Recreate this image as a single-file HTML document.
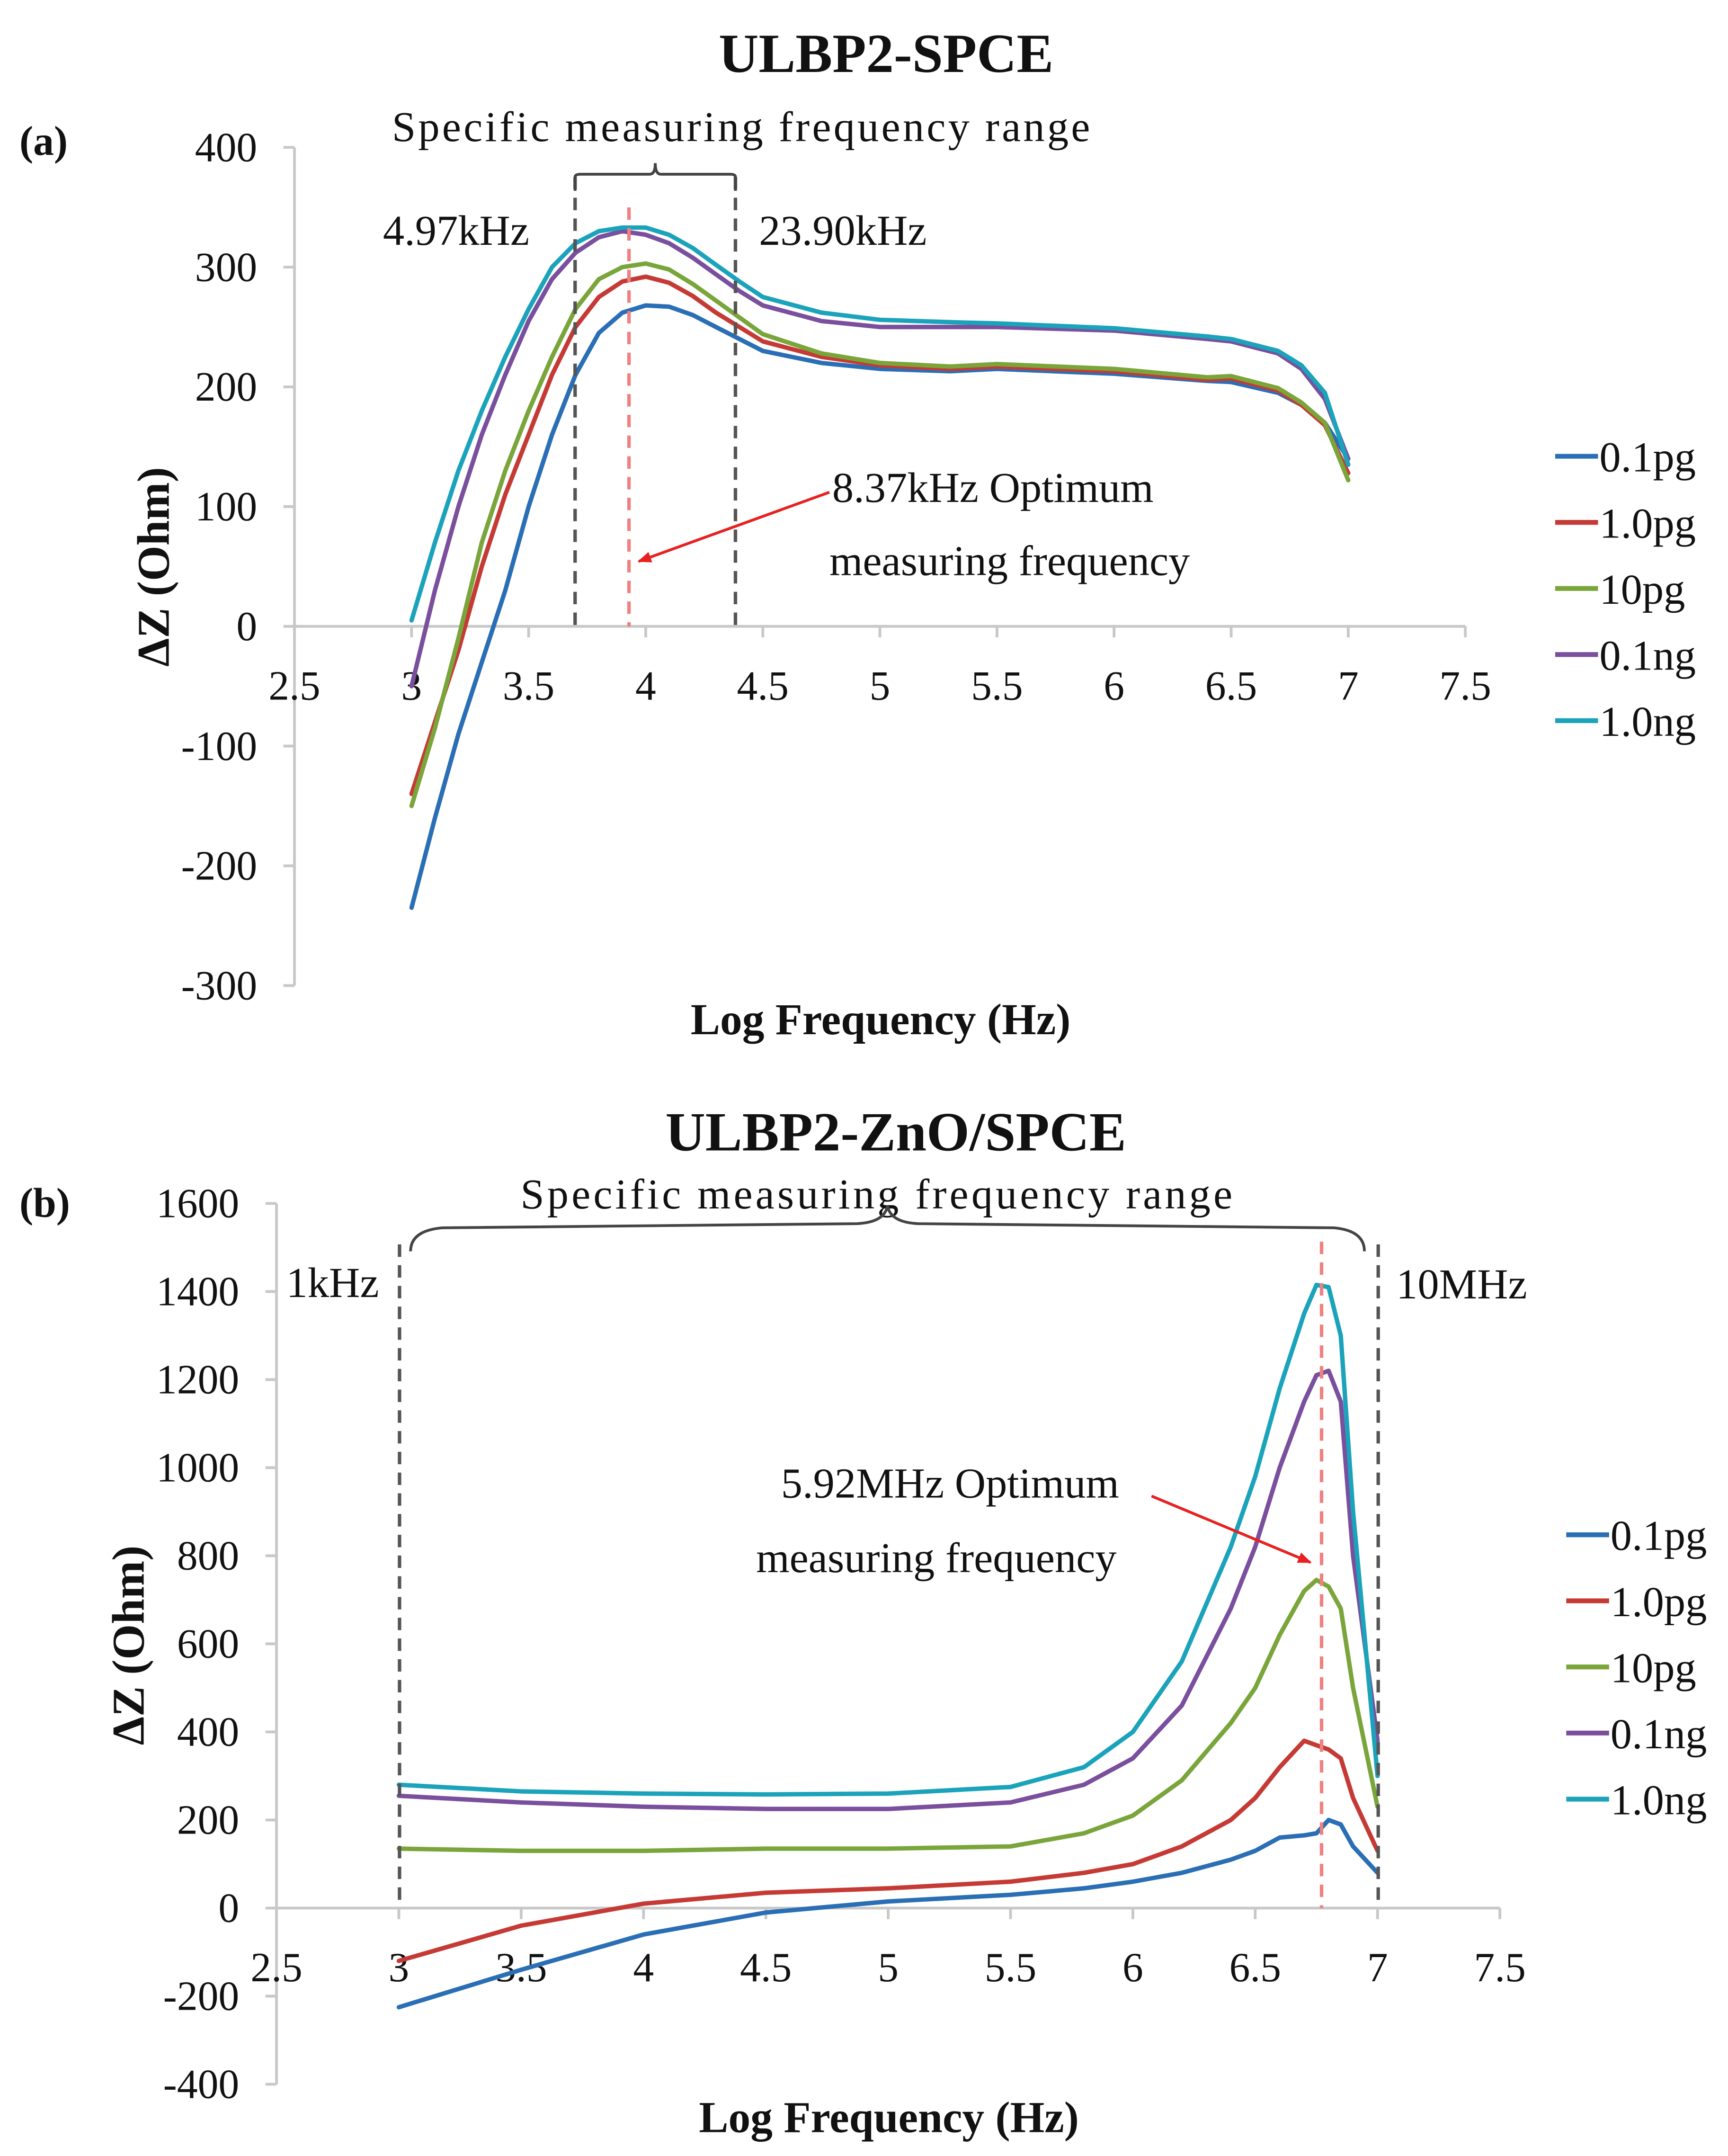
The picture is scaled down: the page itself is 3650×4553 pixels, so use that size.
<!DOCTYPE html>
<html><head><meta charset="utf-8"><style>
html,body{margin:0;padding:0;background:#fff}
svg{display:block}
text{font-family:"Liberation Serif",serif;fill:#111}
</style></head><body>
<svg id="s" width="3650" height="4553" viewBox="0 0 1250 1559.3" xmlns="http://www.w3.org/2000/svg">
<g id="ga">
<text x="641" y="52" font-size="40" font-weight="bold" text-anchor="middle">ULBP2-SPCE</text>
<text x="14" y="112" font-size="30" font-weight="bold">(a)</text>
<text transform="translate(122,410) rotate(-90)" font-size="33" font-weight="bold" text-anchor="middle">ΔZ (Ohm)</text>
<text x="637" y="748" font-size="32" font-weight="bold" text-anchor="middle">Log Frequency (Hz)</text>
<text x="536" y="102" font-size="31" text-anchor="middle" textLength="505">Specific measuring frequency range</text>
<text x="277" y="177" font-size="31">4.97kHz</text>
<text x="549" y="177" font-size="31">23.90kHz</text>
<text x="602" y="363" font-size="31">8.37kHz Optimum</text>
<text x="600" y="416" font-size="31">measuring frequency</text>
</g>
<g id="gb">
<text x="648" y="832" font-size="40" font-weight="bold" text-anchor="middle">ULBP2-ZnO/SPCE</text>
<text x="14" y="880" font-size="30" font-weight="bold">(b)</text>
<text transform="translate(104,1190) rotate(-90)" font-size="33" font-weight="bold" text-anchor="middle">ΔZ (Ohm)</text>
<text x="643" y="1542" font-size="32" font-weight="bold" text-anchor="middle">Log Frequency (Hz)</text>
<text x="634" y="874" font-size="31" text-anchor="middle" textLength="515">Specific measuring frequency range</text>
<text x="207" y="938" font-size="31">1kHz</text>
<text x="1010" y="939" font-size="31">10MHz</text>
<text x="565" y="1083" font-size="31">5.92MHz Optimum</text>
<text x="547" y="1137" font-size="31">measuring frequency</text>
</g>
</svg>
<script>
const seriesNames=["0.1pg","1.0pg","10pg","0.1ng","1.0ng"];
const seriesColors=["#2a6fb5","#c63a35","#7aa53a","#7a4f9d","#1ba3bb"];
const xTicks=[2.5,3,3.5,4,4.5,5,5.5,6,6.5,7,7.5];
const yTicksA=[400,300,200,100,0,-100,-200,-300];
const yTicksB=[1600,1400,1200,1000,800,600,400,200,0,-200,-400];
const xA=[3,3.1,3.2,3.3,3.4,3.5,3.6,3.7,3.8,3.9,4.0,4.1,4.2,4.3,4.4,4.5,4.75,5,5.3,5.5,6,6.4,6.5,6.7,6.8,6.9,7];
const a01pg=[-235,-160,-90,-30,30,100,160,210,245,262,268,267,260,250,240,230,220,215,213,215,211,205,204,195,185,170,140];
const a10pg=[-140,-80,-20,50,110,160,210,250,275,288,292,287,276,262,250,238,225,218,215,217,213,206,207,197,185,168,128];
const a10pgB=[-150,-85,-10,70,130,180,225,265,290,300,303,298,286,272,258,244,228,220,217,219,215,208,209,199,187,170,122];
const a01ng=[-50,30,100,160,210,255,290,312,325,330,327,320,308,294,280,268,255,250,250,250,247,240,238,228,215,190,140];
const a10ng=[5,70,130,180,225,265,300,320,330,333,333,327,316,302,288,275,262,256,254,253,249,242,240,230,218,195,135];
const xB=[3,3.5,4,4.5,5,5.5,5.8,6,6.2,6.4,6.5,6.6,6.7,6.75,6.8,6.85,6.9,7];
const b01pg=[-225,-140,-60,-10,15,30,45,60,80,110,130,160,165,170,200,190,140,80];
const b10pg=[-120,-40,10,35,45,60,80,100,140,200,250,320,380,370,360,340,250,130];
const b10pgB=[135,130,130,135,135,140,170,210,290,420,500,620,720,745,730,680,500,230];
const b01ng=[255,240,230,225,225,240,280,340,460,680,820,1000,1150,1210,1220,1150,800,380];
const b10ng=[280,265,260,258,260,275,320,400,560,820,980,1180,1350,1415,1410,1300,900,300];
const NS="http://www.w3.org/2000/svg";
function mk(p,t,at){const e=document.createElementNS(NS,t);for(const k in at)e.setAttribute(k,at[k]);p.appendChild(e);return e;}
function panel(g,id,X0,X1,Y0v,Y0p,Ypx,yTicks,xs,data,leg,tickFont){
  const sx=v=>X0+(v-2.5)/5*(X1-X0);
  const sy=v=>Y0p-v*Ypx;
  const yTop=sy(yTicks[0]),yBot=sy(yTicks[yTicks.length-1]);
  let l=mk(g,"line",{x1:X0,y1:yTop,x2:X0,y2:yBot,stroke:"#c8c8c8","stroke-width":2});
  
  
  yTicks.forEach(t=>{
    mk(g,"line",{x1:X0-8,y1:sy(t),x2:X0,y2:sy(t),stroke:"#c8c8c8","stroke-width":2});
    let tx=mk(g,"text",{x:X0-27,y:sy(t)+10,"font-size":tickFont,"text-anchor":"end"});tx.textContent=t;
    
    
  });
  let xl=mk(g,"line",{x1:X0,y1:sy(0),x2:X1,y2:sy(0),stroke:"#c8c8c8","stroke-width":2});
  
  
  xTicks.forEach(t=>{
    mk(g,"line",{x1:sx(t),y1:sy(0),x2:sx(t),y2:sy(0)+8,stroke:"#c8c8c8","stroke-width":2});
    let tx=mk(g,"text",{x:sx(t),y:sy(0)+53,"font-size":tickFont,"text-anchor":"middle"});tx.textContent=t;
    
    
  });
  data.forEach((d,i)=>{
    const pts=d.map((v,j)=>sx(xs[j]).toFixed(1)+","+sy(v).toFixed(1)).join(" ");
    let pl=mk(g,"polyline",{points:pts,fill:"none",stroke:seriesColors[i],"stroke-width":3.2,"stroke-linejoin":"round","stroke-linecap":"round"});
    
    
    const ly=leg[1]+i*47.8;
    let ll=mk(g,"line",{x1:leg[0],y1:ly,x2:leg[0]+31,y2:ly,stroke:seriesColors[i],"stroke-width":3.5});
    
    
    let lt=mk(g,"text",{x:leg[0]+32,y:ly+11,"font-size":31});lt.textContent=seriesNames[i];
    
    
  });
  return {sx,sy};
}
const ga=document.getElementById('ga'),gb=document.getElementById('gb');
const A=panel(ga,'a',213,1060,0,453,0.866,yTicksA,xA,[a01pg,a10pg,a10pgB,a01ng,a10ng],[1125,330],30);
const B=panel(gb,'b',200,1085,0,1380,0.3185,yTicksB,xB,[b01pg,b10pg,b10pgB,b01ng,b10ng],[1133,1110],30);
function dash(g,x,y1,y2,c,n){let e=mk(g,"line",{x1:x,y1:y1,x2:x,y2:y2,stroke:c,"stroke-width":2.5,"stroke-dasharray":"9,6"});}
dash(ga,416,128,453,"#555","range-start-line-a");
dash(ga,532,128,453,"#555","range-end-line-a");
dash(ga,455,150,453,"#f08080","optimum-line-a");
let br=mk(ga,"path",{d:"M416,138 L416,128 Q416,126 420,126 L470,126 Q474,126 474,118 Q474,126 478,126 L528,126 Q532,126 532,128 L532,138",fill:"none",stroke:"#444","stroke-width":2});

mk(ga,"defs",{}).innerHTML='<marker id="ar" markerWidth="10" markerHeight="8" refX="9" refY="4" orient="auto" markerUnits="userSpaceOnUse"><path d="M0,0 L10,4 L0,8 z" fill="#e82020"/></marker>';
let ar1=mk(ga,"line",{x1:600,y1:356,x2:462,y2:406,stroke:"#e82020","stroke-width":2,"marker-end":"url(#ar)"});

dash(gb,289,900,1380,"#555","range-start-line-b");
dash(gb,997,900,1380,"#555","range-end-line-b");
dash(gb,956,898,1380,"#f08080","optimum-line-b");
let br2=mk(gb,"path",{d:"M297,905 Q297,890 320,888 L620,885 Q640,884 642,872 Q644,884 664,885 L965,888 Q987,890 987,905",fill:"none",stroke:"#444","stroke-width":2});

let ar2=mk(gb,"line",{x1:833,y1:1082,x2:948,y2:1130,stroke:"#e82020","stroke-width":2,"marker-end":"url(#ar)"});

</script>
</body></html>
